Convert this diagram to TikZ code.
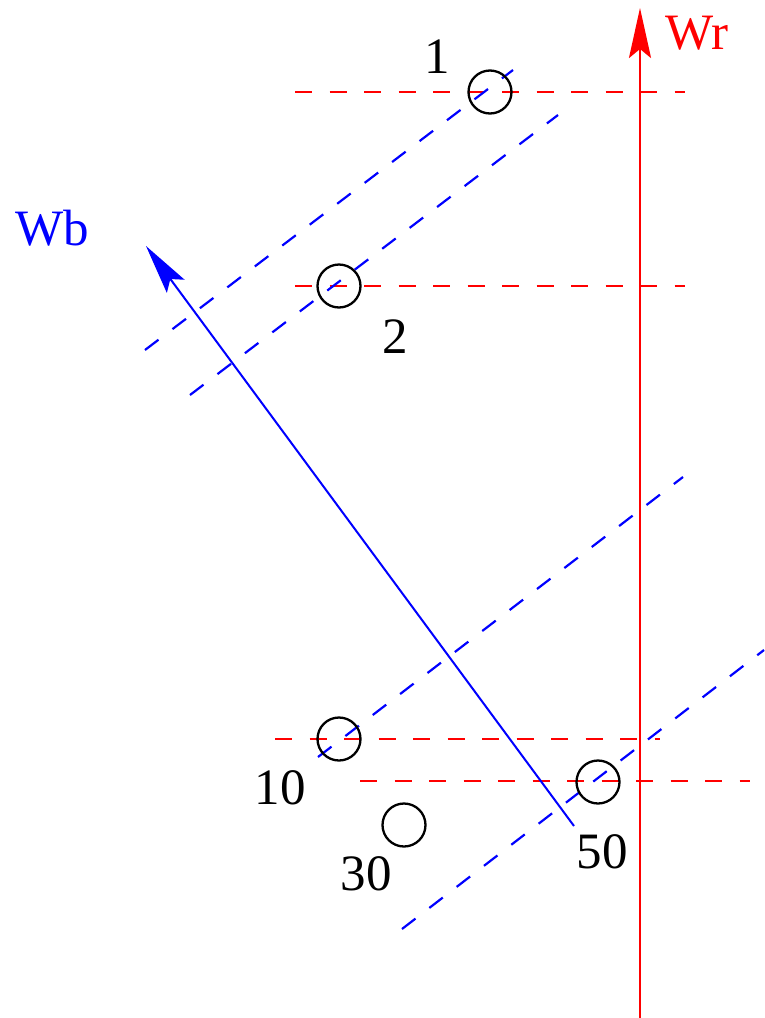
\documentclass[tikz,border=0pt]{standalone}
\usepackage{fontspec}
\setmainfont{Liberation Serif}
\usetikzlibrary{arrows.meta}
\definecolor{fr}{RGB}{255,0,0}
\definecolor{fb}{RGB}{0,0,255}
\begin{document}
\begin{tikzpicture}[x=1pt,y=-1pt,
  ring/.style={circle,draw=black,line width=2.3pt,minimum size=43pt,inner sep=0pt},
  lbl/.style={font=\fontsize{51}{56}\selectfont,inner sep=0pt},
  rdash/.style={draw=fr,line width=2.2pt,dash pattern=on 17pt off 17.5pt},
  bdash/.style={draw=fb,line width=2.2pt,dash pattern=on 17pt off 17.5pt},
  tip/.style={-{Stealth[length=50pt,width=22pt,inset=9pt]}}]
\useasboundingbox (0,0) rectangle (764,1018);
% red dashed horizontals
\draw[rdash] (295,92) -- (685,92);
\draw[rdash] (295,286) -- (685,286);
\draw[rdash] (275,739) -- (660,739);
\draw[rdash] (360,781) -- (750,781);
% blue dashed diagonals
\draw[bdash] (145,350) -- (513,70);
\draw[bdash] (190,395) -- (558,115);
\draw[bdash] (318,757) -- (683,477);
\draw[bdash] (402,929) -- (764,650);
% red axis
\coordinate (wrbot) at (640,1018);
\coordinate (wrtop) at (640,8);
\draw[fr,line width=2.5pt,tip] (wrbot) -- (wrtop);
\node[lbl,text=fr] (wr) at (697,33) {Wr};
% blue axis
\coordinate (wbbot) at (574,826);
\coordinate (wbtop) at (146,246);
\draw[fb,line width=2pt,tip] (wbbot) -- (wbtop);
\node[lbl,text=fb] (wb) at (52,228) {Wb};
% circles
\node[ring] (c1) at (490,92) {};
\node[ring] (c2) at (339,286) {};
\node[ring] (c10) at (339,739) {};
\node[ring] (c50) at (598,782) {};
\node[ring] (c30) at (404,825) {};
% labels
\node[lbl] (l1) at (437,57) {1};
\node[lbl] (l2) at (395,337) {2};
\node[lbl] (l10) at (280,788) {10};
\node[lbl] (l30) at (366,874) {30};
\node[lbl] (l50) at (602,852) {50};
\end{tikzpicture}
\end{document}
